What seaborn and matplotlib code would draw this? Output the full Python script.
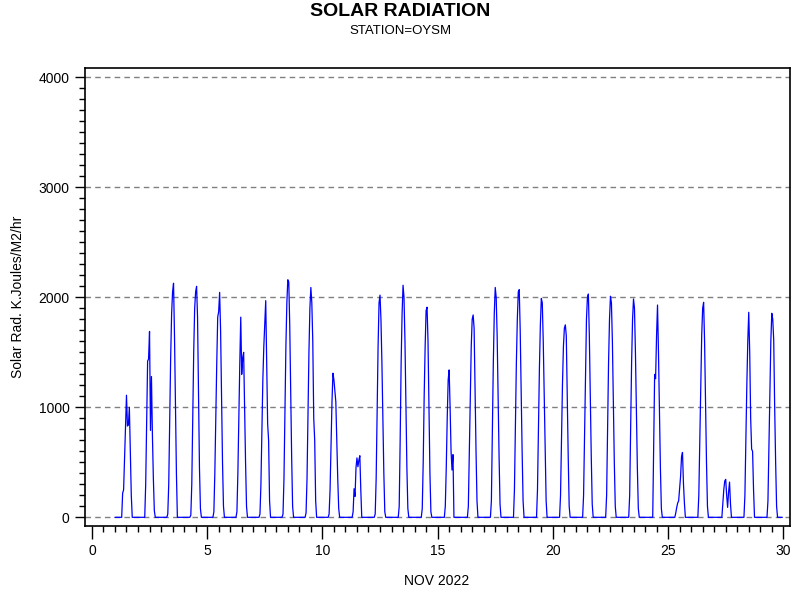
import numpy as np
import pandas as pd
import matplotlib
matplotlib.use("Agg")
import matplotlib.pyplot as plt
from matplotlib.ticker import MultipleLocator
import seaborn as sns

# Hourly solar radiation (KJ/m2/hr), daylight hours 7..18 for each day of Nov 2022; other hours read as 0
days = list(range(1, 30))
first_hour = 7
daylight = [
    [0, 220, 250, 540, 830, 1110, 830, 840, 1000, 600, 200, 0],      # 1
    [0, 300, 850, 1420, 1440, 1690, 790, 1280, 750, 350, 60, 0],     # 2
    [30, 300, 900, 1450, 1850, 2050, 2128, 1650, 1000, 400, 0, 0],   # 3
    [20, 300, 900, 1500, 1900, 2050, 2100, 1820, 1100, 450, 80, 0],  # 4
    [50, 400, 900, 1400, 1820, 1870, 2045, 1700, 1100, 500, 100, 0], # 5
    [50, 400, 900, 1400, 1820, 1300, 1450, 1500, 1000, 500, 100, 0], # 6
    [30, 300, 800, 1250, 1550, 1750, 1970, 1400, 850, 700, 150, 0],  # 7
    [30, 350, 950, 1550, 1950, 2160, 2140, 1750, 1150, 550, 100, 0], # 8
    [40, 350, 950, 1500, 1900, 2090, 1950, 1600, 900, 700, 150, 0],  # 9
    [30, 250, 650, 1050, 1310, 1250, 1150, 1050, 700, 350, 80, 0],   # 10
    [0, 50, 260, 190, 450, 540, 460, 520, 560, 250, 0, 0],           # 11
    [30, 350, 950, 1550, 1950, 2020, 1800, 1400, 900, 400, 50, 0],   # 12
    [0, 100, 700, 1400, 1850, 2110, 2000, 1600, 1000, 450, 80, 0],   # 13
    [0, 80, 500, 1100, 1550, 1880, 1910, 1600, 1000, 400, 50, 0],    # 14
    [0, 100, 450, 900, 1250, 1340, 1000, 600, 430, 570, 0, 0],       # 15
    [0, 100, 600, 1150, 1550, 1800, 1840, 1720, 1150, 600, 150, 0],  # 16
    [0, 150, 750, 1400, 1850, 2090, 2000, 1650, 1100, 550, 120, 0],  # 17
    [0, 250, 850, 1400, 1800, 2050, 2070, 1700, 1150, 600, 150, 0],  # 18
    [0, 250, 800, 1350, 1750, 1990, 1950, 1600, 1100, 550, 150, 0],  # 19
    [0, 200, 700, 1200, 1550, 1720, 1750, 1650, 1100, 550, 100, 0],  # 20
    [0, 200, 750, 1350, 1800, 2000, 2030, 1650, 1100, 550, 120, 0],  # 21
    [0, 200, 800, 1400, 1800, 2010, 1950, 1600, 1050, 500, 100, 0],  # 22
    [0, 200, 800, 1400, 1800, 1985, 1900, 1500, 950, 450, 80, 0],    # 23
    [0, 0, 650, 1300, 1260, 1650, 1930, 1500, 950, 450, 80, 0],      # 24
    [0, 40, 90, 130, 150, 260, 370, 550, 590, 310, 130, 0],          # 25
    [0, 200, 700, 1250, 1650, 1900, 1955, 1600, 1050, 500, 100, 0],  # 26
    [0, 0, 120, 250, 330, 345, 200, 90, 230, 320, 120, 0],           # 27
    [0, 200, 700, 1200, 1600, 1864, 1500, 900, 620, 600, 250, 0],    # 28
    [0, 150, 650, 1200, 1600, 1855, 1800, 1612, 1000, 500, 100, 0],  # 29
]

# Build hourly table (x = day of month + hour/24)
xs, ys = [], []
for d, vals in zip(days, daylight):
    for h in range(24):
        xs.append(d + h / 24.0)
        k = h - first_hour
        ys.append(vals[k] if 0 <= k < len(vals) else 0)
df = pd.DataFrame({"day": xs, "rad": ys})

sns.set_theme(style="white")
plt.rcParams["font.family"] = ["Liberation Sans", "DejaVu Sans"]

fig = plt.figure(figsize=(8, 6), dpi=100)
ax = fig.add_axes([85 / 800, 1 - 526 / 600, 705 / 800, 458 / 600])

for yv in [0, 1000, 2000, 3000, 4000]:
    ax.axhline(yv, color="#808080", lw=1.0, ls=(0, (4, 3)), zorder=1)

sns.lineplot(data=df, x="day", y="rad", ax=ax, color="#0000FF", lw=0.9, zorder=3)

ax.set_xlim(-0.30, 30.29)
ax.set_ylim(-79, 4085)
ax.xaxis.set_major_locator(MultipleLocator(5))
ax.xaxis.set_minor_locator(MultipleLocator(0.5))
ax.yaxis.set_major_locator(MultipleLocator(1000))
ax.yaxis.set_minor_locator(MultipleLocator(100))
ax.tick_params(axis="both", which="major", direction="out", length=7, width=1,
               color="black", labelsize=10, labelcolor="black", pad=3,
               bottom=True, left=True)
ax.tick_params(axis="both", which="minor", direction="out", length=4, width=1,
               color="black", bottom=True, left=True)
ax.tick_params(axis="x", which="major", length=9, pad=4)
ax.tick_params(axis="y", which="major", pad=4)

for s in ax.spines.values():
    s.set_visible(True)
    s.set_color("black")
    s.set_linewidth(1.2)

ax.set_xlabel("")
ax.set_ylabel("")
fig.text(437 / 800, 1 - 581 / 600, "NOV 2022", ha="center", va="center",
         fontsize=10, color="black")
fig.text(18 / 800, 1 - 297 / 600, "Solar Rad. K.Joules/M2/hr", ha="center",
         va="center", rotation=90, fontsize=10, color="black")

fig.text(0.5, 1 - 11 / 600, "SOLAR RADIATION", ha="center", va="center",
         fontsize=14, fontweight="bold", color="black")
fig.text(0.5, 1 - 31 / 600, "STATION=OYSM", ha="center", va="center",
         fontsize=9.5, color="black")

fig.savefig("out.png", dpi=100, facecolor="white")
